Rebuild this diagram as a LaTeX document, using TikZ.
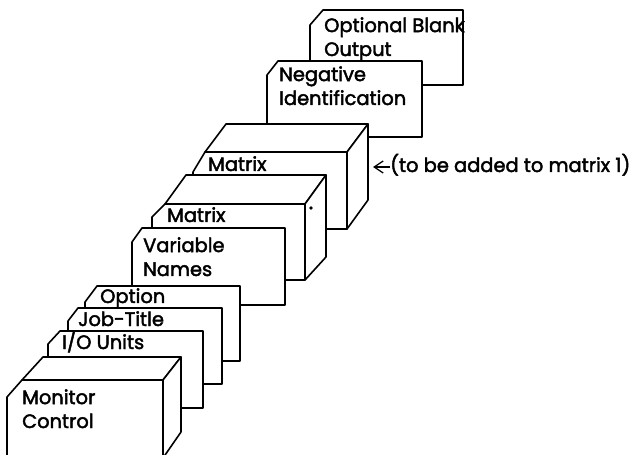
\documentclass[tikz,border=0pt]{standalone}
\usepackage{fontspec}
\newfontfamily\deckfont[FakeBold=2.2]{Poppins}
\usetikzlibrary{arrows.meta}

\tikzset{
  deck/.style={draw=black, fill=white, line width=1.6bp, line join=round},
  % two-line labels are anchored at the baseline of their last line
  cardtext/.style={anchor=base west, inner sep=0pt, align=left,
    font=\deckfont\fontsize{19.5}{24}\selectfont},
  notetext/.style={anchor=base west, inner sep=0pt,
    font=\deckfont\fontsize{19.5}{24}\selectfont},
  notearrow/.style={line width=1.3bp, -{Straight Barb[length=9bp, width=12bp, line width=1.3bp]}}
}

\begin{document}
\begin{tikzpicture}[x=1bp, y=-1bp]
\useasboundingbox (0,0) rectangle (641,455);

% --- cards, back of the deck first ---
% Optional Blank Output
\path[deck] (310,25) -- (323,10) -- (463,10) -- (463,85) -- (310,85) -- cycle;
\node[cardtext] (optblank) at (324,56) {Optional Blank\\Output};

% Negative Identification
\path[deck] (267,75) -- (278,61) -- (422,61) -- (422,137) -- (267,137) -- cycle;
\node[cardtext] (negid) at (279,105) {Negative\\Identification};

% Matrix deck (matrix 2): top face, right face, front face
\path[deck] (205,152) -- (226,124) -- (368,124) -- (347,152) -- cycle;
\path[deck] (347,152) -- (368,124) -- (368,200) -- (347,229) -- cycle;
\path[deck] (193,172) -- (205,152) -- (347,152) -- (347,229) -- (193,229) -- cycle;
\node[cardtext] (matrixtwo) at (208,171) {Matrix};
\coordinate (matrixtwoside) at (373,167);

% Matrix deck (matrix 1)
\path[deck] (165,204) -- (186,175) -- (326,175) -- (305,204) -- cycle;
\path[deck] (305,204) -- (326,175) -- (326,257) -- (305,280) -- cycle;
\path[deck] (152,217) -- (165,204) -- (305,204) -- (305,280) -- (152,280) -- cycle;
\fill (311,208) circle (1.8bp);
\node[cardtext] (matrixone) at (167,222) {Matrix};

% Variable Names
\path[deck] (132,242) -- (142,228) -- (285,228) -- (285,305) -- (132,305) -- cycle;
\node[cardtext] (varnames) at (143,276) {Variable\\Names};

% Option
\path[deck] (85,302) -- (97,286) -- (240,286) -- (240,361) -- (85,361) -- cycle;
\node[cardtext] (option) at (100,303) {Option};

% Job-Title
\path[deck] (68,321) -- (78,308) -- (222,308) -- (222,384) -- (68,384) -- cycle;
\node[cardtext] (jobtitle) at (78,326) {Job-Title};

% I/O Units
\path[deck] (48,344) -- (60,331) -- (203,331) -- (203,408) -- (48,408) -- cycle;
\node[cardtext] (iounits) at (62,349) {I/O Units};

% Monitor Control deck
\path[deck] (22,380) -- (43,357) -- (181,357) -- (163,380) -- cycle;
\path[deck] (163,380) -- (181,357) -- (181,432) -- (163,458) -- cycle;
\path[deck] (7,397) -- (22,380) -- (163,380) -- (163,460) -- (7,460) -- cycle;
\node[cardtext] (monitor) at (22,428) {Monitor\\Control};

% --- note on matrix 2 ---
\node[notetext] (note) at (390,172) {(to be added to matrix 1)};
\draw[notearrow] (note.west |- matrixtwoside) -- (matrixtwoside);

\end{tikzpicture}
\end{document}
